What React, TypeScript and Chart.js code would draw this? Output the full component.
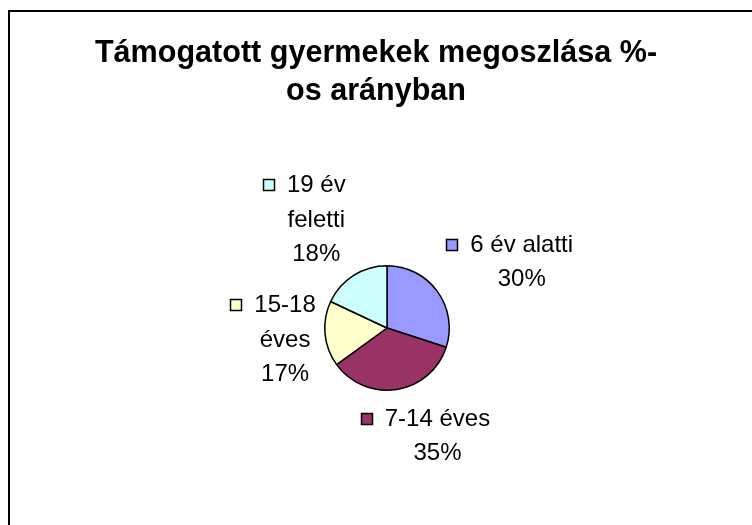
import React, { useEffect, useRef } from "react";
import { Chart, registerables } from "chart.js";

Chart.register(...registerables);

const TITLE_LINES = ["Támogatott gyermekek megoszlása %-", "os arányban"];
const CATEGORIES = ["6 év alatti", "7-14 éves", "15-18 éves", "19 év feletti"];
const LABEL_LINES = [["6 év alatti"], ["7-14 éves"], ["15-18", "éves"], ["19 év", "feletti"]];
const VALUES = [30, 35, 17, 18];
const COLORS = ["#9999FF", "#993366", "#FFFFCC", "#CCFFFF"];

const FONT = "'Liberation Sans', Arial, Helvetica, sans-serif";

const framePlugin = {
  id: "excelFrame",
  beforeDraw(chart: any) {
    const ctx = chart.ctx;
    ctx.save();
    ctx.fillStyle = "#ffffff";
    ctx.fillRect(0, 0, chart.width, chart.height);
    ctx.fillStyle = "#000000";
    ctx.fillRect(8, 10, chart.width, 2);
    ctx.fillRect(8, 10, 2, chart.height);
    ctx.font = `bold 32px ${FONT}`;
    ctx.textAlign = "center";
    ctx.textBaseline = "alphabetic";
    const sx = 0.955;
    ctx.translate(chart.width / 2, 0);
    ctx.scale(sx, 1);
    TITLE_LINES.forEach((t, i) => ctx.fillText(t, 0, 62 + i * 37.5));
    ctx.restore();
  },
  afterDatasetsDraw(chart: any, _args: any, opts: any) {
    const ctx = chart.ctx;
    const meta = chart.getDatasetMeta(0);
    const data = chart.data.datasets[0].data as number[];
    const total = data.reduce((a, b) => a + b, 0);
    const nudges = opts.nudges || [];
    const LH = 34.5;
    ctx.save();
    ctx.font = `24px ${FONT}`;
    ctx.textAlign = "center";
    ctx.textBaseline = "alphabetic";
    meta.data.forEach((arc: any, i: number) => {
      const p = arc.getProps(["x", "y", "startAngle", "endAngle", "outerRadius"], true);
      const mid = (p.startAngle + p.endAngle) / 2;
      const n = nudges[i] || [0, 0];
      const cx = p.x + Math.cos(mid) * p.outerRadius * 2 + n[0];
      const cy = p.y + Math.sin(mid) * p.outerRadius * 2 + n[1];
      const pct = Math.round((data[i] / total) * 100) + "%";
      const lines = [...LABEL_LINES[i], pct];
      const first = cy - ((lines.length - 1) * LH) / 2;
      ctx.fillStyle = "#000000";
      lines.forEach((l, j) => ctx.fillText(l, cx, first + j * LH));
      const w0 = ctx.measureText(lines[0]).width;
      const sx = Math.round(cx - w0 / 2 - 24);
      const sy = Math.round(first - 13);
      ctx.fillStyle = COLORS[i];
      ctx.fillRect(sx, sy, 12, 12);
      ctx.strokeStyle = "#000000";
      ctx.lineWidth = 1.5;
      ctx.strokeRect(sx + 0.5, sy + 0.5, 11, 11);
    });
    ctx.restore();
  },
};

export default function App() {
  const ref = useRef<HTMLCanvasElement | null>(null);
  useEffect(() => {
    if (!ref.current) return;
    const chart = new Chart(ref.current, {
      type: "pie",
      data: {
        labels: CATEGORIES,
        datasets: [
          {
            data: VALUES,
            backgroundColor: COLORS,
            borderColor: "#000000",
            borderWidth: 1.5,
          },
        ],
      },
      options: {
        animation: false,
        responsive: false,
        devicePixelRatio: 1,
        layout: { padding: { left: 324, right: 302, top: 265, bottom: 134 } },
        plugins: {
          legend: { display: false },
          title: { display: false },
          tooltip: { enabled: false },
          excelFrame: { nudges: [[34, 14], [31, -8], [22, 7], [-4, 4]] },
        } as any,
      },
      plugins: [framePlugin],
    });
    return () => chart.destroy();
  }, []);
  return (
    <div style={{ position: "fixed", left: 0, top: 0, width: 752, height: 525, overflow: "hidden", background: "#fff" }}>
      <canvas ref={ref} width={752} height={525} style={{ width: 752, height: 525, display: "block" }} />
    </div>
  );
}
